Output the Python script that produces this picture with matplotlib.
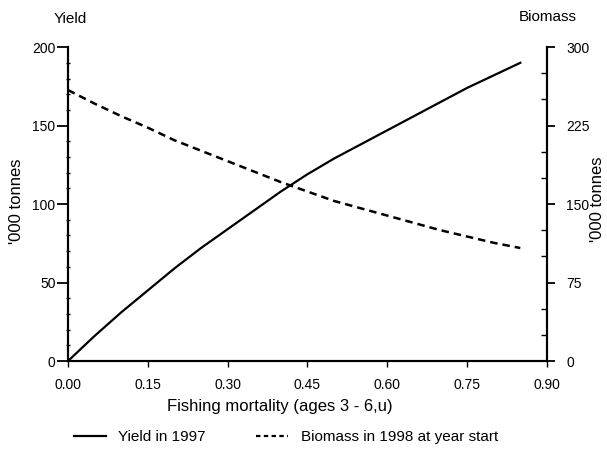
import matplotlib.pyplot as plt
from matplotlib.ticker import MultipleLocator
from matplotlib.lines import Line2D

plt.rcParams['font.family'] = ['Liberation Sans', 'DejaVu Sans']

# fishing mortality (ages 3-6)
f_mort = [0.00, 0.05, 0.10, 0.15, 0.20, 0.25, 0.30, 0.35, 0.40,
          0.45, 0.50, 0.55, 0.60, 0.65, 0.70, 0.75, 0.80, 0.85]
# yield in 1997, '000 tonnes (left axis)
yield_1997 = [0, 16, 31, 45, 59, 72, 84, 96, 108,
              119, 129, 138, 147, 156, 165, 174, 182, 190]
# biomass at start of 1998, '000 tonnes (right axis)
biomass_1998 = [259, 246, 234, 223, 211, 201, 191, 181, 171,
                162, 153, 146, 139, 132, 125, 119, 113, 108]

x_ticks = [0.00, 0.15, 0.30, 0.45, 0.60, 0.75, 0.90]
x_labels = ['0.00', '0.15', '0.30', '0.45', '0.60', '0.75', '0.90']

fig = plt.figure(figsize=(6.07, 4.53), dpi=100)
ax = fig.add_axes([0.112, 0.203, 0.789, 0.693])
ax2 = ax.twinx()

ax.plot(f_mort, yield_1997, color='black', lw=1.6)
ax2.plot(f_mort, biomass_1998, color='black', lw=1.8, ls=(0, (3, 2)))

ax.set_xlim(0, 0.9)
ax.set_ylim(0, 200)
ax2.set_ylim(0, 300)

ax.set_xticks(x_ticks)
ax.set_xticklabels(x_labels)
ax.set_yticks([0, 50, 100, 150, 200])
ax.yaxis.set_minor_locator(MultipleLocator(10))
ax2.set_yticks([0, 75, 150, 225, 300])
ax2.yaxis.set_minor_locator(MultipleLocator(25))

for a in (ax, ax2):
    a.spines['top'].set_visible(False)
    for s in a.spines.values():
        s.set_linewidth(1.5)

ax.tick_params(axis='y', which='major', length=8, width=1.3, labelsize=10, pad=1)
ax.tick_params(axis='y', which='minor', length=3, width=1, direction='inout')
ax.tick_params(axis='x', length=4, width=1, labelsize=10, pad=8)
ax2.tick_params(axis='y', which='major', length=6, width=1.3, labelsize=10, pad=8)
ax2.tick_params(axis='y', which='minor', length=4, width=1, direction='in')

ax.set_xlabel('Fishing mortality (ages 3 - 6,u)', fontsize=12)
ax.xaxis.set_label_coords(0.443, -0.122)
fig.text(0.028, 0.555, "'000 tonnes", rotation=90, fontsize=12, ha='center', va='center')
fig.text(0.985, 0.56, "'000 tonnes", rotation=90, fontsize=12, ha='center', va='center')
fig.text(0.115, 0.958, 'Yield', fontsize=11, ha='center', va='center')
fig.text(0.903, 0.962, 'Biomass', fontsize=11, ha='center', va='center')

handles = [Line2D([], [], color='black', lw=1.6),
           Line2D([], [], color='black', lw=1.6, ls=(0, (2, 1.5)))]
fig.legend(handles, ['Yield in 1997', 'Biomass in 1998 at year start'],
           loc='center', bbox_to_anchor=(0.471, 0.035), ncol=2, frameon=False,
           fontsize=11, handlelength=2.1, handletextpad=0.8, columnspacing=3.3)

fig.savefig('out.png', dpi=100)
